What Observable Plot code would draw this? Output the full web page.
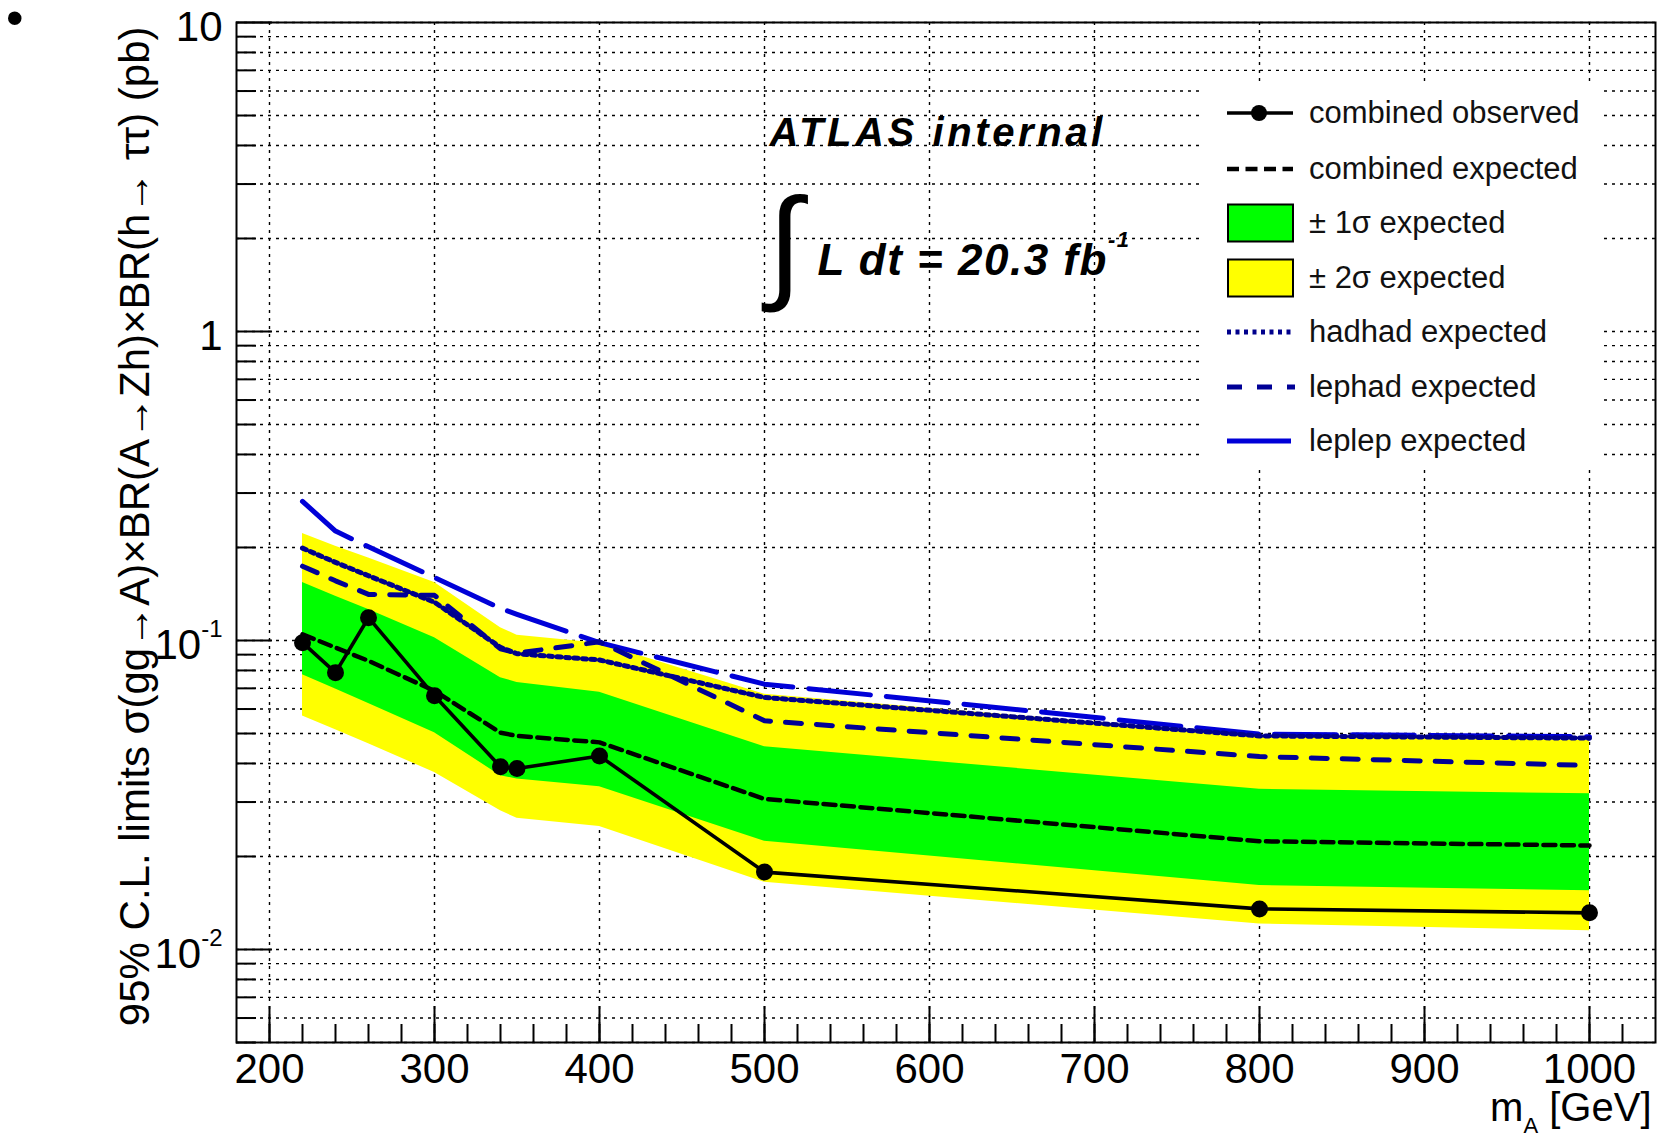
<!DOCTYPE html>
<html><head><meta charset="utf-8">
<script src="https://cdn.jsdelivr.net/npm/d3@7"></script>
<script src="https://cdn.jsdelivr.net/npm/@observablehq/plot@0.6"></script>
<style>
body{margin:0;background:#fff;font-family:"Liberation Sans",Arial,Helvetica,sans-serif;}
#wrap{position:relative;width:1659px;height:1135px;overflow:hidden;}
#bullet{position:absolute;left:6px;top:8px;font-size:50px;line-height:20px;height:20px;color:#000;}
#legend{position:absolute;left:1204px;top:84px;width:398px;height:386px;background:#fff;}
.row{position:absolute;left:23px;height:40px;display:flex;align-items:center;font-size:31px;color:#111;white-space:nowrap;}
.row svg{width:70px;height:40px;margin-right:12px;flex:none;}
</style></head>
<body>
<div id="wrap"><div id="bullet">•</div></div>
<script>
// ---- data ----
const masses   = [220, 240, 260, 300, 340, 350, 400, 500, 800, 1000];
const observed = [0.0984, 0.0787, 0.1185, 0.0662, 0.0390, 0.0385, 0.0423, 0.0178, 0.01353, 0.01314];
const expected = [0.1047, 0.0948, 0.0859, 0.0687, 0.0503, 0.0491, 0.0468, 0.0307, 0.0224, 0.0217];
const sigma1Up = [0.154, 0.139, 0.126, 0.102, 0.0758, 0.0731, 0.0680, 0.0453, 0.0330, 0.0319];
const sigma1Lo = [0.0774, 0.0696, 0.0625, 0.0503, 0.0365, 0.0356, 0.0336, 0.0224, 0.0161, 0.0155];
const sigma2Up = [0.222, 0.202, 0.185, 0.154, 0.110, 0.104, 0.098, 0.067, 0.0490, 0.0475];
const sigma2Lo = [0.0570, 0.0514, 0.0463, 0.0374, 0.0281, 0.0266, 0.0250, 0.0165, 0.0121, 0.0115];
const hadhad   = [0.199, 0.179, 0.162, 0.133, 0.095, 0.0906, 0.0865, 0.0654, 0.0491, 0.0483];
const lephad   = [0.174, 0.156, 0.141, 0.140, 0.094, 0.091, 0.099, 0.055, 0.0421, 0.0394];
const leplep   = [0.282, 0.226, 0.201, 0.160, 0.127, 0.1215, 0.0984, 0.0722, 0.0498, 0.0488];

const xMajor = [200, 300, 400, 500, 600, 700, 800, 900, 1000];
const xMinor = [200,220,240,260,280,300,320,340,360,380,400,420,440,460,480,500,520,540,560,580,600,620,640,660,680,700,720,740,760,780,800,820,840,860,880,900,920,940,960,980,1000,1020];
const yMajor = [0.01, 0.1, 1, 10];
const yMajorLabels = ["10^{-2}", "10^{-1}", "1", "10"];
const yGrid = [0.005,0.006,0.007,0.008,0.009,0.01,0.02,0.03,0.04,0.05,0.06,0.07,0.08,0.09,0.1,0.2,0.3,0.4,0.5,0.6,0.7,0.8,0.9,1,2,3,4,5,6,7,8,9,10];
const yMinor = [0.005,0.006,0.007,0.008,0.009,0.02,0.03,0.04,0.05,0.06,0.07,0.08,0.09,0.2,0.3,0.4,0.5,0.6,0.7,0.8,0.9,2,3,4,5,6,7,8,9];

const yTitle = "95% C.L. limits σ(gg→A)×BR(A→Zh)×BR(h→ ττ) (pb)";
const xTitle = "m_{A} [GeV]";
const atlasText = "ATLAS internal";
const lumiText = "L dt = 20.3 fb^{-1}";

const legendItems = [
  {label: "combined observed", kind: "obs"},
  {label: "combined expected", kind: "exp"},
  {label: "± 1σ expected", kind: "s1"},
  {label: "± 2σ expected", kind: "s2"},
  {label: "hadhad expected", kind: "hh"},
  {label: "lephad expected", kind: "lh"},
  {label: "leplep expected", kind: "ll"}
];

const C = {yellow: "#ffff00", green: "#00ff00", navy: "#00008c", navy2: "#000096", blue: "#0000d8"};

const rows = masses.map((m, i) => ({m, obs: observed[i], exp: expected[i], u1: sigma1Up[i], l1: sigma1Lo[i],
  u2: sigma2Up[i], l2: sigma2Lo[i], hh: hadhad[i], lh: lephad[i], ll: leplep[i]}));

const labelOf = new Map(yMajor.map((v, i) => [v, yMajorLabels[i]]));
const font = "Liberation Sans, Arial, Helvetica, sans-serif";

const chart = Plot.plot({
  width: 1659, height: 1135,
  marginLeft: 236, marginRight: 4, marginTop: 22, marginBottom: 93,
  style: {fontFamily: font, background: "white", overflow: "visible", color: "#000"},
  x: {domain: [180, 1040], label: null},
  y: {type: "log", domain: [0.005, 10], label: null},
  marks: [
    Plot.ruleX(xMajor, {x: d => d, stroke: "#000", strokeWidth: 1.4, strokeDasharray: "3,5"}),
    Plot.ruleY(yGrid, {y: d => d, stroke: "#000", strokeWidth: 1.4, strokeDasharray: "3,5"}),
    Plot.areaY(rows, {x: "m", y1: "l2", y2: "u2", fill: C.yellow}),
    Plot.areaY(rows, {x: "m", y1: "l1", y2: "u1", fill: C.green}),
    Plot.line(rows, {x: "m", y: "ll", stroke: C.blue, strokeWidth: 5, strokeDasharray: "62,16"}),
    Plot.line(rows, {x: "m", y: "lh", stroke: C.navy2, strokeWidth: 5, strokeDasharray: "16,15"}),
    Plot.line(rows, {x: "m", y: "hh", stroke: C.navy, strokeWidth: 5, strokeDasharray: "4,4.5"}),
    Plot.line(rows, {x: "m", y: "exp", stroke: "#000", strokeWidth: 4.5, strokeDasharray: "12,6.5"}),
    Plot.line(rows, {x: "m", y: "obs", stroke: "#000", strokeWidth: 3.6}),
    Plot.dot(rows, {x: "m", y: "obs", r: 8.5, fill: "#000"}),
    Plot.frame({stroke: "#000", strokeWidth: 2}),
    Plot.axisX(xMajor, {tickSize: -36, tickFormat: () => "", strokeWidth: 2, label: null}),
    Plot.axisX(xMinor, {tickSize: -18, tickFormat: () => "", strokeWidth: 2, label: null}),
    Plot.axisX(xMajor, {tickSize: 0, tickPadding: 11, fontSize: 42, tickFormat: d => String(d), label: null}),
    Plot.axisY(yMajor, {tickSize: -36, tickFormat: () => "", strokeWidth: 2, label: null}),
    Plot.axisY(yMinor, {tickSize: -20, tickFormat: () => "", strokeWidth: 2, label: null}),
    Plot.axisY(yMajor, {tickSize: 0, tickPadding: 14, fontSize: 42, dy: 5, tickFormat: d => labelOf.get(d), label: null}),
    Plot.text([yTitle], {frameAnchor: "top-left", rotate: -90, textAnchor: "end", dx: -117, dy: 4, fontSize: 42, fill: "#000"}),
    Plot.text([xTitle], {frameAnchor: "bottom-right", textAnchor: "end", dx: -4, dy: 78, fontSize: 40, fill: "#000"}),
    Plot.text([atlasText], {frameAnchor: "top-left", textAnchor: "start", dx: 533, dy: 95, fontSize: 40, fontWeight: "bold", fontStyle: "italic", fill: "#000"}),
    Plot.text(["∫"], {frameAnchor: "top-left", textAnchor: "middle", dx: 548, dy: 175, fontSize: 125, fill: "#000"}),
    Plot.text([lumiText], {frameAnchor: "top-left", textAnchor: "start", dx: 581, dy: 221, fontSize: 44, fontWeight: "bold", fontStyle: "italic", fill: "#000"})
  ]
});

const wrap = document.getElementById("wrap");
wrap.appendChild(chart);

// rich text: ^{..} superscript, _{..} subscript
const richCfg = {
  "10^{-1}": {size: 0.57, shift: 0.52},
  "10^{-2}": {size: 0.57, shift: 0.52},
  "L dt = 20.3 fb^{-1}": {size: 0.5, shift: 0.64},
  "m_{A} [GeV]": {size: 0.55, shift: 0.32}
};
chart.querySelectorAll("text").forEach(el => {
  const s = el.textContent;
  if (!/[\^_]\{/.test(s)) return;
  const cfg = richCfg[s] || {size: 0.55, shift: 0.5};
  const fs = parseFloat(getComputedStyle(el).fontSize) || 40;
  const parts = s.split(/([\^_]\{[^}]*\})/).filter(p => p !== "");
  el.textContent = "";
  let cur = 0;
  for (const p of parts) {
    const t = document.createElementNS("http://www.w3.org/2000/svg", "tspan");
    let target = 0, txt = p;
    if (p.startsWith("^{")) { target = -cfg.shift * fs; txt = p.slice(2, -1); t.setAttribute("font-size", (cfg.size * fs) + "px"); }
    else if (p.startsWith("_{")) { target = cfg.shift * fs; txt = p.slice(2, -1); t.setAttribute("font-size", (cfg.size * fs) + "px"); }
    if (target !== cur) t.setAttribute("dy", (target - cur) + "px");
    cur = target;
    t.textContent = txt;
    el.appendChild(t);
  }
  if (s === lumiText) el.style.letterSpacing = "1.5px";
});
chart.querySelectorAll("text").forEach(el => {
  if (el.textContent === atlasText) el.style.letterSpacing = "3.6px";
});

// legend (inside the frame, white box)
const legend = document.createElement("div");
legend.id = "legend";
const centers = [29, 85, 139, 194, 248, 303, 357];
function symbol(kind) {
  const sw = {
    obs: `<line x1="0" y1="20" x2="66" y2="20" stroke="#000" stroke-width="3.6"/><circle cx="32" cy="20" r="8" fill="#000"/>`,
    exp: `<line x1="0" y1="20" x2="66" y2="20" stroke="#000" stroke-width="4.5" stroke-dasharray="12,6.5"/>`,
    s1: `<rect x="1" y="1.5" width="65" height="37" fill="${C.green}" stroke="#000" stroke-width="2"/>`,
    s2: `<rect x="1" y="1.5" width="65" height="37" fill="${C.yellow}" stroke="#000" stroke-width="2"/>`,
    hh: `<line x1="0" y1="20" x2="68" y2="20" stroke="${C.navy}" stroke-width="5" stroke-dasharray="4,4.5"/>`,
    lh: `<line x1="0" y1="20" x2="68" y2="20" stroke="${C.navy2}" stroke-width="5" stroke-dasharray="15,15"/>`,
    ll: `<line x1="0" y1="20" x2="64" y2="20" stroke="${C.blue}" stroke-width="5"/>`
  }[kind];
  return `<svg viewBox="0 0 70 40">${sw}</svg>`;
}
legendItems.forEach((it, i) => {
  const r = document.createElement("div");
  r.className = "row";
  r.style.top = (centers[i] - 20) + "px";
  r.innerHTML = symbol(it.kind) + `<span>${it.label}</span>`;
  legend.appendChild(r);
});
wrap.appendChild(legend);
</script>
</body></html>
